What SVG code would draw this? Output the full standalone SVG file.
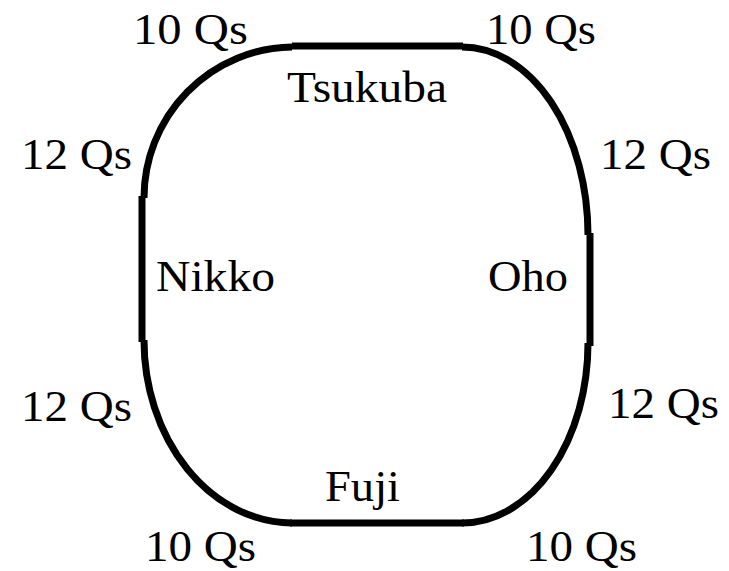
<svg xmlns="http://www.w3.org/2000/svg" width="729" height="571" viewBox="0 0 729 571">
<style>
.t{font-family:"Liberation Serif","Times New Roman",serif;font-size:45px;fill:#000}
.tr{fill:none;stroke:#000;stroke-width:7}
</style>
<rect width="729" height="571" fill="#fff"/>
<g id="connectors">
<path class="tr" d="M292,47 A150,151 0 0 0 144,198"/>
<path class="tr" d="M142,196 L142,342"/>
<path class="tr" d="M144,340 A149,183 0 0 0 292,523"/>
<path class="tr" d="M290,523 L464,523"/>
<path class="tr" d="M462,523 A126,180 0 0 0 588,343"/>
<path class="tr" d="M590,233 L590,346"/>
<path class="tr" d="M588,235 A126,188 0 0 0 462,47"/>
<path class="tr" d="M292,46 L463,46"/>
</g>
<g id="tsukuba"><text class="t" x="287" y="102" textLength="160" lengthAdjust="spacingAndGlyphs">Tsukuba</text></g>
<g id="nikko"><text class="t" x="156" y="291" textLength="119" lengthAdjust="spacingAndGlyphs">Nikko</text></g>
<g id="oho"><text class="t" x="488" y="291" textLength="80" lengthAdjust="spacingAndGlyphs">Oho</text></g>
<g id="fuji"><text class="t" x="325" y="501" textLength="75" lengthAdjust="spacingAndGlyphs">Fuji</text></g>
<g id="labels">
<text class="t" x="133" y="44" textLength="115" lengthAdjust="spacingAndGlyphs">10 Qs</text>
<text class="t" x="486" y="44" textLength="110" lengthAdjust="spacingAndGlyphs">10 Qs</text>
<text class="t" x="21" y="169" textLength="111" lengthAdjust="spacingAndGlyphs">12 Qs</text>
<text class="t" x="600" y="169" textLength="111" lengthAdjust="spacingAndGlyphs">12 Qs</text>
<text class="t" x="21" y="421" textLength="111" lengthAdjust="spacingAndGlyphs">12 Qs</text>
<text class="t" x="608" y="418" textLength="111" lengthAdjust="spacingAndGlyphs">12 Qs</text>
<text class="t" x="145" y="561" textLength="111" lengthAdjust="spacingAndGlyphs">10 Qs</text>
<text class="t" x="526" y="561" textLength="111" lengthAdjust="spacingAndGlyphs">10 Qs</text>
</g>
</svg>
